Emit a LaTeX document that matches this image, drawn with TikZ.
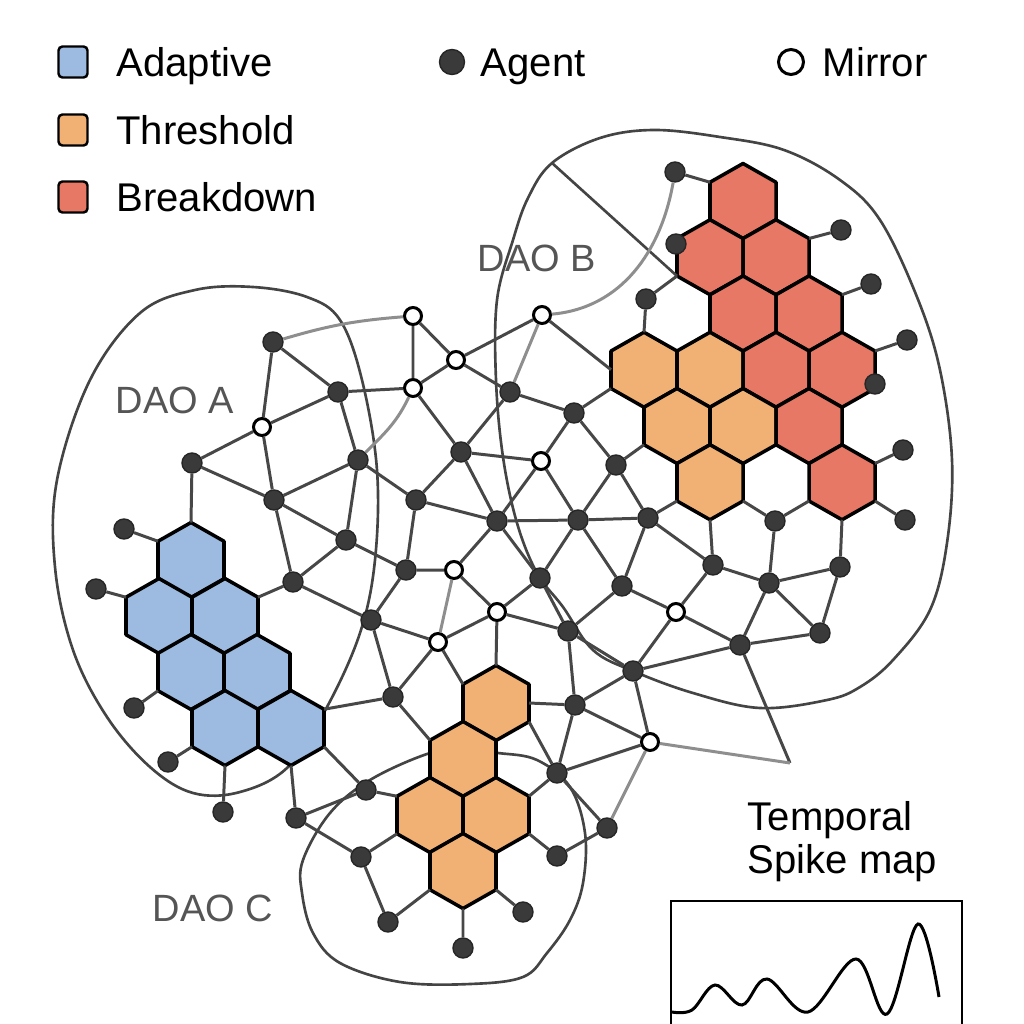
\documentclass[tikz,border=0pt]{standalone}
\usepackage{fontspec}
\setmainfont{Liberation Sans}
\usetikzlibrary{positioning}
\definecolor{adaptblue}{HTML}{9DBBE0}
\definecolor{threshorange}{HTML}{F1B174}
\definecolor{breakred}{HTML}{E77865}
\definecolor{agentgray}{HTML}{3A3A3A}
\definecolor{linkgray}{HTML}{474747}
\definecolor{ghostgray}{HTML}{8E8E8E}
\definecolor{daogray}{HTML}{444444}
\definecolor{labelgray}{HTML}{555555}
\newcommand{\hexcell}[4]{\draw[hexline, fill=#4] (#2,#3) +(0,-37.5) -- +(33,-18.75) -- +(33,18.75) -- +(0,37.5) -- +(-33,18.75) -- +(-33,-18.75) -- cycle;
					\path (#2,#3) +(0,-37.5) coordinate (#1-t) +(33,-18.75) coordinate (#1-ur) +(33,0) coordinate (#1-r) +(33,18.75) coordinate (#1-lr)
						+(0,37.5) coordinate (#1-b) +(-33,18.75) coordinate (#1-ll) +(-33,0) coordinate (#1-l) +(-33,-18.75) coordinate (#1-ul);}
\tikzset{
	agent/.style={circle, fill=agentgray, draw=black!85, line width=0.4pt, minimum size=0.2cm, inner sep=0pt},
	mirror/.style={circle, fill=white, draw=black, line width=0.85pt, minimum size=0.17cm, inner sep=0pt},
	link/.style={draw=linkgray, line width=0.85pt},
	ghost/.style={draw=ghostgray, line width=0.85pt},
	daoline/.style={draw=daogray, line width=0.75pt},
	hexline/.style={draw=black, line width=1pt, line join=round},
	legbox/.style={draw=black, line width=0.7pt, rounded corners=0.04cm, minimum width=0.29cm, minimum height=0.31cm, inner sep=0pt},
	legtext/.style={font=\fontsize{11.4}{13}\selectfont, text=black, inner sep=0pt, text height=0.286cm, text depth=0pt},
	daolabel/.style={font=\fontsize{10.8}{13}\selectfont, text=labelgray, anchor=base west, inner sep=0pt}
}

\begin{document}
\begin{tikzpicture}[x=0.01cm, y=-0.01cm]

					\fill[white] (0,0) rectangle (1024,1024);
					\useasboundingbox (0,0) rectangle (1024,1024);

					% legend
					\node[legbox, fill=adaptblue] (keyA) at (73,62) {};
					\node[legbox, fill=threshorange] (keyT) at (73,130) {};
					\node[legbox, fill=breakred] (keyB) at (73,197) {};
					\node[legtext, right=0.27cm of keyA] (txtA) {Adaptive};
					\node[legtext, right=0.27cm of keyT] (txtT) {Threshold};
					\node[legtext, right=0.27cm of keyB] (txtB) {Breakdown};
					\node[agent, minimum size=0.25cm] (keyG) at (452,62) {};
					\node[legtext, right=0.15cm of keyG] (txtG) {Agent};
					\node[mirror, minimum size=0.25cm] (keyM) at (791,62) {};
					\node[legtext, right=0.17cm of keyM] (txtM) {Mirror};

					% DAO borders
					\draw[daoline] plot[smooth cycle, tension=0.6] coordinates {(253,287) (307,297) (340,320) (362,380) (377,470) (375,560) (360,633) (327,707) (288,767) (240,792) (193,793) (150,767) (107,717) (73,650) (55,567) (57,480) (90,380) (140,313) (195,290)};
					\draw[daoline] plot[smooth cycle, tension=0.6] coordinates {(552,163) (600,138) (654,130) (720,137) (784,150) (840,180) (880,220) (917,297) (940,370) (952,460) (947,543) (930,610) (893,660) (860,687) (827,700) (760,708) (693,693) (633,671) (593,650) (563,607) (537,573) (517,523) (503,457) (496,380) (497,300) (513,240) (528,198)};
					\draw[daoline] plot[smooth cycle, tension=0.6] coordinates {(460,750) (427,754) (370,780) (330,813) (303,860) (302,893) (313,933) (340,963) (400,982) (470,984) (523,977) (547,953) (570,920) (583,883) (585,833) (570,787) (537,760) (498,753)};
					\coordinate (chord) at (552,163);

					% hexagons
					\hexcell{hA1}{191}{560}{adaptblue}
					\hexcell{hA2}{159}{616}{adaptblue}
					\hexcell{hA3}{225}{616}{adaptblue}
					\hexcell{hA4}{191}{672}{adaptblue}
					\hexcell{hA5}{257}{672}{adaptblue}
					\hexcell{hA6}{225}{728}{adaptblue}
					\hexcell{hA7}{291}{728}{adaptblue}

					\hexcell{r1}{743}{201}{breakred}
					\hexcell{r2}{710}{257.25}{breakred}
					\hexcell{r3}{776}{257.25}{breakred}
					\hexcell{r4}{743}{313.5}{breakred}
					\hexcell{r5}{809}{313.5}{breakred}
					\hexcell{o1}{644}{369.75}{threshorange}
					\hexcell{o2}{710}{369.75}{threshorange}
					\hexcell{r6}{776}{369.75}{breakred}
					\hexcell{r7}{842}{369.75}{breakred}
					\hexcell{o3}{677}{426}{threshorange}
					\hexcell{o4}{743}{426}{threshorange}
					\hexcell{r8}{809}{426}{breakred}
					\hexcell{o5}{710}{482.25}{threshorange}
					\hexcell{r9}{842}{482.25}{breakred}

					\hexcell{hC1}{496}{703}{threshorange}
					\hexcell{hC2}{463}{759}{threshorange}
					\hexcell{hC3}{430}{815}{threshorange}
					\hexcell{hC4}{496}{815}{threshorange}
					\hexcell{hC5}{463}{871}{threshorange}

					% agents
					\node[agent] (a1) at (273,342) {};
					\node[agent] (a2) at (338,392) {};
					\node[agent] (a3) at (510,392) {};
					\node[agent] (a4) at (574,413) {};
					\node[agent] (a5) at (358,460) {};
					\node[agent] (a6) at (461,452) {};
					\node[agent] (a7) at (616,465) {};
					\node[agent] (a8) at (274,500) {};
					\node[agent] (a9) at (416,500) {};
					\node[agent] (a10) at (192,463) {};
					\node[agent] (a11) at (346,540) {};
					\node[agent] (a12) at (293,582) {};
					\node[agent] (a13) at (406,570) {};
					\node[agent] (a14) at (371,620) {};
					\node[agent] (a15) at (497,521) {};
					\node[agent] (a16) at (578,520) {};
					\node[agent] (a17) at (648,518) {};
					\node[agent] (a18) at (540,578) {};
					\node[agent] (a19) at (622,586) {};
					\node[agent] (a20) at (568,631) {};
					\node[agent] (a21) at (633,671) {};
					\node[agent] (a22) at (393,697) {};
					\node[agent] (a23) at (575,705) {};
					\node[agent] (a24) at (557,773) {};
					\node[agent] (a25) at (366,790) {};
					\node[agent] (a26) at (296,818) {};
					\node[agent] (a27) at (361,857) {};
					\node[agent] (a28) at (607,828) {};
					\node[agent] (a29) at (557,856) {};
					\node[agent] (a30) at (388,922) {};
					\node[agent] (a31) at (523,912) {};
					\node[agent] (a32) at (463,948) {};
					\node[agent] (a33) at (775,521) {};
					\node[agent] (a34) at (905,520) {};
					\node[agent] (a35) at (713,565) {};
					\node[agent] (a36) at (769,583) {};
					\node[agent] (a37) at (840,567) {};
					\node[agent] (a38) at (820,633) {};
					\node[agent] (a39) at (740,645) {};
					\node[agent] (a40) at (675,172) {};
					\node[agent] (a41) at (676,244) {};
					\node[agent] (a42) at (841,230) {};
					\node[agent] (a43) at (871,284) {};
					\node[agent] (a44) at (907,340) {};
					\node[agent] (a45) at (875,384) {};
					\node[agent] (a46) at (903,450) {};
					\node[agent] (b1) at (646,299) {};
					\node[agent] (c1) at (124,529) {};
					\node[agent] (c2) at (96,589) {};
					\node[agent] (c3) at (134,708) {};
					\node[agent] (c4) at (168,762) {};
					\node[agent] (c5) at (223,812) {};

					% mirrors
					\node[mirror] (m1) at (413,316) {};
					\node[mirror] (m2) at (542,315) {};
					\node[mirror] (m3) at (456,360) {};
					\node[mirror] (m4) at (413,388) {};
					\node[mirror] (m5) at (262,427) {};
					\node[mirror] (m6) at (541,461) {};
					\node[mirror] (m7) at (454,570) {};
					\node[mirror] (m8) at (438,642) {};
					\node[mirror] (m9) at (497,612) {};
					\node[mirror] (m10) at (676,612) {};
					\node[mirror] (m11) at (650,742) {};
					\coordinate (tail) at (790,763);

					% links
					\draw[link] (a1) -- (a2) (a1) -- (m5) (a2) -- (m4) (a2) -- (m5) (a2) -- (a5)
						(m1) -- (m4) (m1) -- (m3) (m3) -- (m4) (m3) -- (m2) (m3) -- (a3)
						(m4) -- (a6) (a3) -- (a4) (a3) -- (a6) (a4) -- (m6) (a4) -- (a7)
						(m5) -- (a10) (m5) -- (a8) (a10) -- (a8) (a8) -- (a5) (a8) -- (a11) (a8) -- (a12)
						(a5) -- (a11) (a5) -- (a9) (a9) -- (a6) (a9) -- (a13) (a9) -- (a15)
						(a6) -- (m6) (a6) -- (a15) (m6) -- (a15) (m6) -- (a16)
						(a7) -- (a16) (a7) -- (a17) (a15) -- (a16) (a15) -- (m7) (a15) -- (a18)
						(a16) -- (a17) (a16) -- (a18) (a16) -- (a19) (a17) -- (a19) (a17) -- (a35)
						(a11) -- (a12) (a11) -- (a13) (a12) -- (a14) (a13) -- (m7) (a13) -- (a14)
						(m7) -- (m9) (a14) -- (m8) (a14) -- (a22) (m8) -- (m9) (m8) -- (a22)
						(m9) -- (a18) (m9) -- (a20) (a18) -- (a20) (a19) -- (a20) (a19) -- (m10)
						(a20) -- (a21) (a20) -- (a23) (m10) -- (a35) (m10) -- (a21) (m10) -- (a39)
						(a35) -- (a36) (a36) -- (a33) (a36) -- (a37) (a36) -- (a38) (a36) -- (a39)
						(a37) -- (a38) (a38) -- (a39) (a21) -- (a39) (a21) -- (a23) (a21) -- (m11)
						(a23) -- (m11) (a23) -- (a24) (a24) -- (m11) (a24) -- (a28) (a28) -- (a29)
						(a39) -- (tail) (a26) -- (a25) (a26) -- (a27) (a27) -- (a30);

					% links to cells
					\draw[link] (a10) -- (hA1-t) (c1) -- (hA1-ul) (c2) -- (hA2-ul) (a12) -- (hA3-ur)
						(c3) -- (hA4-ll) (c4) -- (hA6-ll) (c5) -- (hA6-b) (a26) -- (hA7-b)
						(a22) -- (hA7-ur) (a25) -- (hA7-lr)
						(m9) -- (hC1-t) (m8) -- (hC1-ul) (a23) -- (hC1-r) (a24) -- (hC1-lr)
						(a22) -- (hC2-ul) (a24) -- (hC4-ur) (a25) -- (hC3-ul) (a27) -- (hC3-ll)
						(a29) -- (hC4-lr) (a30) -- (hC5-ll) (a31) -- (hC5-lr) (a32) -- (hC5-b)
						(a40) -- (r1-ul) (b1) -- (r2-ll) (b1) -- (o1-t) (a42) -- (r3-ur) (a43) -- (r5-ur)
						(a44) -- (r7-ur) (a46) -- (r9-ur) (a34) -- (r9-lr) (a37) -- (r9-b)
						(a33) -- (r9-ll) (a33) -- (o5-lr) (a35) -- (o5-b) (a17) -- (o5-ll)
						(a7) -- (o3-ll) (a4) -- (o1-ll) (m2) -- (o1-l);
					\draw[daoline] (chord) -- (r2-ll);

					% mirror links
					\draw[ghost] (a1) to[bend left=6] (m1);
					\draw[ghost] (m2) to[out=5, in=-100] (a40);
					\draw[ghost] (m4) to[out=-115, in=45] (a5);
					\draw[ghost] (m2) -- (a3) (m7) -- (m8) (m11) -- (a28) (m11) -- (tail);

					% labels
					\node[daolabel] (daoA) at (115,413) {DAO A};
					\node[daolabel] (daoB) at (477,271) {DAO B};
					\node[daolabel] (daoC) at (152,921) {DAO C};
					\node[legtext, anchor=base west] (spk1) at (747,830) {Temporal};
					\node[legtext, anchor=base west] (spk2) at (747,873) {Spike map};

					% spike map
					\draw[black, line width=0.75pt] (671,901) rectangle (962,1040);
					\draw[black, line width=0.85pt] plot[smooth, tension=0.6] coordinates {(672,1012) (692,1010) (715,985) (742,1005) (767,979) (808,1012) (856,959) (887,1014) (918,924) (939,997)};

				\end{tikzpicture}
\end{document}
